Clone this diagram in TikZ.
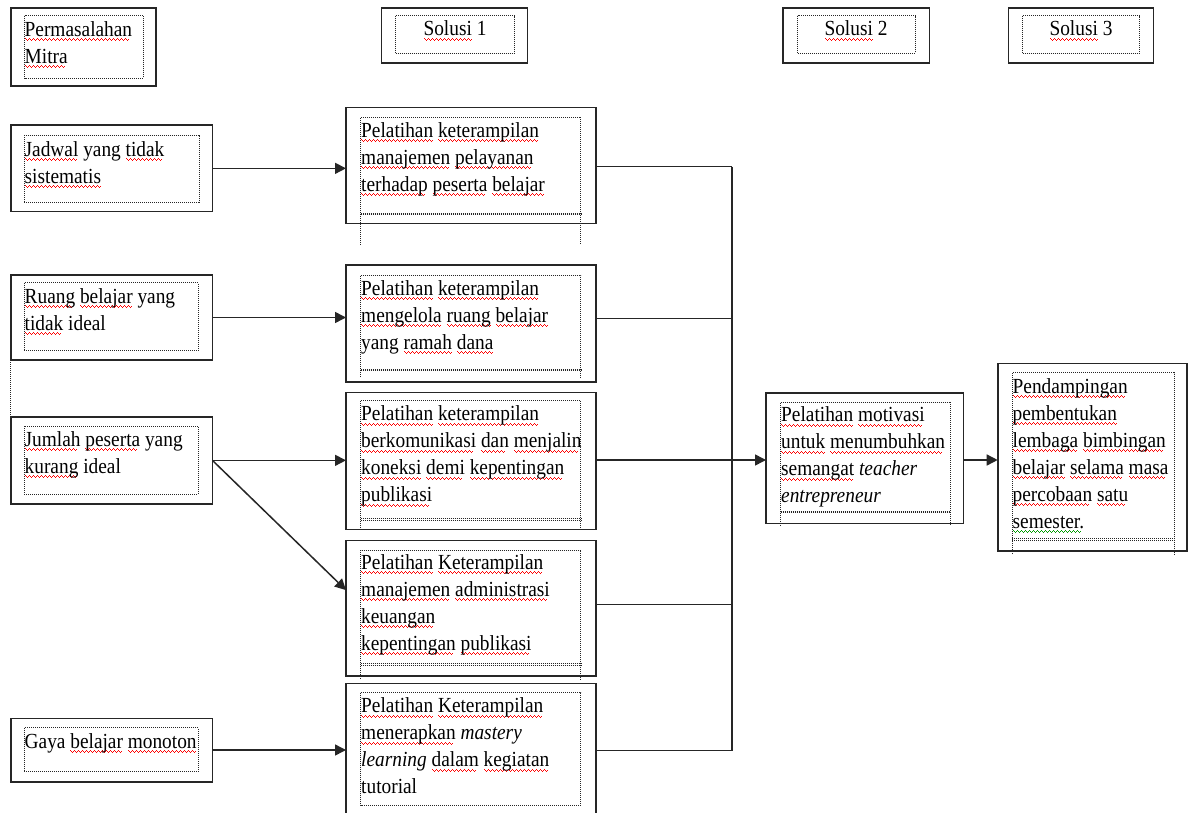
\documentclass[tikz,border=0pt]{standalone}
\usepackage{fontspec}
\setmainfont{Liberation Serif}[FakeStretch=0.9]
\usetikzlibrary{arrows.meta}
\newcommand\wv{\hbox{\rule[-2.6pt]{1pt}{1pt}\rule[-3.6pt]{1pt}{1pt}\rule[-4.6pt]{1pt}{1pt}\rule[-3.6pt]{1pt}{1pt}}}
\newcommand\rw[1]{\setbox0\hbox{#1}\rlap{\hbox to \wd0{\color{red}\leaders\wv\hfil}}\box0\relax}
\newcommand\gw[1]{\setbox0\hbox{#1}\rlap{\hbox to \wd0{\color{green!60!black}\leaders\wv\hfil}}\box0\relax}
\newcommand\fs{\rule{0pt}{16pt}}
\newcommand\mkbox[5]{\node[obox, minimum width={#4-#2}, minimum height={#5-#3}] (#1) at (#2,#3) {};}
\newcommand\tbox[5]{\draw[idot] (#2,#5) -- (#2,#3) -- (#4,#3) -- (#4,#5);
  \draw[idot] (#2,#1) -- (#4,#1); \draw[idot] (#2,#1+1.6) -- (#4,#1+1.6);}
\begin{document}
\begin{tikzpicture}[x=1pt,y=-1pt,
  line/.style={draw=black!85, line width=1.5pt},
  obox/.style={draw=black!85, line width=1.6pt, inner sep=0pt, outer sep=0pt, anchor=north west},
  idot/.style={draw=black!85, line width=0.9pt, dash pattern=on 1pt off 1pt},
  txt/.style={inner sep=0pt, anchor=north west, align=left, font=\fontsize{21.5}{27}\selectfont},
  ttl/.style={inner sep=0pt, anchor=base, font=\fontsize{21.5}{27}\selectfont},
  arr/.style={line, -{Triangle[length=11pt,width=11pt]}}]
\useasboundingbox (0,0) rectangle (1189,813);

% header boxes
\mkbox{perm}{10.7}{8.3}{155.8}{86}
\mkbox{sol1}{381.6}{8.3}{527.4}{63.3}
\mkbox{sol2}{782.7}{8.3}{929.5}{63.3}
\mkbox{sol3}{1008.3}{8.3}{1153.6}{63.3}
\draw[idot] (24.5,15.7) rectangle (143,78.3);
\draw[idot] (395.7,15.7) rectangle (514.4,53.7);
\draw[idot] (797.5,15.7) rectangle (915,53.3);
\draw[idot] (1022.3,15.7) rectangle (1139.6,53.3);
\node[txt] (tperm) at (24.5,20) {\fs\rw{Permasalahan}\\\rw{Mitra}};
\node[ttl] (tsol1) at (455,36) {\rw{Solusi} 1};
\node[ttl] (tsol2) at (856,36) {\rw{Solusi} 2};
\node[ttl] (tsol3) at (1081,36) {\rw{Solusi} 3};

% problem boxes
\mkbox{jadwal}{10.7}{125}{212.4}{211.7}
\mkbox{ruang}{10.7}{275}{212.4}{360}
\mkbox{jumlah}{10.7}{416.7}{212.4}{504}
\mkbox{gaya}{10.7}{718.3}{212.4}{781.7}
\draw[idot] (24,135) rectangle (199,202.7);
\draw[idot] (24,282.7) rectangle (198,350.7);
\draw[idot] (24,426) rectangle (198,494);
\draw[idot] (24,727.7) rectangle (198,771.7);
\draw[idot] (ruang.south west) -- (jumlah.north west);
\node[txt] (tjadwal) at (24.5,140) {\fs\rw{Jadwal} yang \rw{tidak}\\\rw{sistematis}};
\node[txt] (truang) at (24.5,287.3) {\fs\rw{Ruang} \rw{belajar} yang\\\rw{tidak} ideal};
\node[txt] (tjumlah) at (24.5,430) {\fs\rw{Jumlah} \rw{peserta} yang\\\rw{kurang} ideal};
\node[txt] (tgaya) at (24.5,732.3) {\fs Gaya \rw{belajar} \rw{monoton}};

% solusi 1 boxes
\mkbox{sa}{346}{107.7}{596}{223.7}
\mkbox{sb}{346}{265}{596}{381.7}
\mkbox{sc}{346}{392.3}{596}{529.3}
\mkbox{sd}{346}{540.5}{596}{675.7}
\mkbox{se}{346}{683.3}{596}{840}
\tbox{213}{360.5}{117.3}{580.7}{245}
\tbox{369}{360.5}{275}{580.7}{377}
\tbox{518.5}{360.5}{400.7}{580.7}{528}
\tbox{663.5}{360.5}{550}{580.7}{679}
\draw[idot] (360.5,692.7) rectangle (580.7,805);
\node[txt] (tsa) at (361,121.3) {\fs\rw{Pelatihan} \rw{keterampilan}\\\rw{manajemen} \rw{pelayanan}\\\rw{terhadap} \rw{peserta} \rw{belajar}};
\node[txt] (tsb) at (361,279) {\fs\rw{Pelatihan} \rw{keterampilan}\\\rw{mengelola} \rw{ruang} \rw{belajar}\\yang \rw{ramah} \rw{dana}};
\node[txt] (tsc) at (361,404.7) {\fs\rw{Pelatihan} \rw{keterampilan}\\\rw{berkomunikasi} \rw{dan} \rw{menjalin}\\\rw{koneksi} \rw{demi} \rw{kepentingan}\\\rw{publikasi}};
\node[txt] (tsd) at (361,553.3) {\fs\rw{Pelatihan} \rw{Keterampilan}\\\rw{manajemen} \rw{administrasi}\\\rw{keuangan}\\\rw{kepentingan} \rw{publikasi}};
\node[txt] (tse) at (361,696.7) {\fs\rw{Pelatihan} \rw{Keterampilan}\\\rw{menerapkan} \textit{mastery}\\\textit{learning} \rw{dalam} \rw{kegiatan}\\tutorial};

% solusi 2 and 3
\mkbox{s2}{766}{392.7}{963.3}{523.3}
\mkbox{s3}{997.7}{363.3}{1187}{551}
\tbox{511}{780.7}{402}{950.7}{526}
\tbox{538.5}{1012.3}{372.7}{1174}{554}
\node[txt] (ts2) at (781,405.7) {\fs\rw{Pelatihan} \rw{motivasi}\\\rw{untuk} \rw{menumbuhkan}\\\rw{semangat} \textit{teacher}\\\textit{entrepreneur}};
\node[txt] (ts3) at (1012.5,377.3) {\fs\rw{Pendampingan}\\\rw{pembentukan}\\\rw{lembaga} \rw{bimbingan}\\\rw{belajar} \rw{selama} \rw{masa}\\\rw{percobaan} \rw{satu}\\\gw{semester.}};

% connectors problem -> solusi 1
\draw[arr] (jadwal.east) -- (jadwal.east -| sa.west);
\draw[arr] (ruang.east) -- (ruang.east -| sb.west);
\draw[arr] (jumlah.east) -- (jumlah.east -| sc.west);
\draw[arr] (jumlah.east) -- ([yshift=18pt]sd.west);
\draw[arr] (gaya.east) -- (gaya.east -| se.west);

% bus
\coordinate (b1) at (732,166.7);
\coordinate (b2) at (732,318.5);
\coordinate (b3) at (732,460);
\coordinate (b4) at (732,604.3);
\coordinate (b5) at (732,750.7);
\draw[line] (sa.east |- b1) -- (b1);
\draw[line] (sb.east |- b2) -- (b2);
\draw[line] (sc.east |- b3) -- (b3);
\draw[line] (sd.east |- b4) -- (b4);
\draw[line] (se.east |- b5) -- (b5);
\draw[line] (b1) -- (b5);
\draw[arr] (b3) -- (b3 -| s2.west);
\draw[arr] (b3 -| s2.east) -- (b3 -| s3.west);
\end{tikzpicture}
\end{document}
